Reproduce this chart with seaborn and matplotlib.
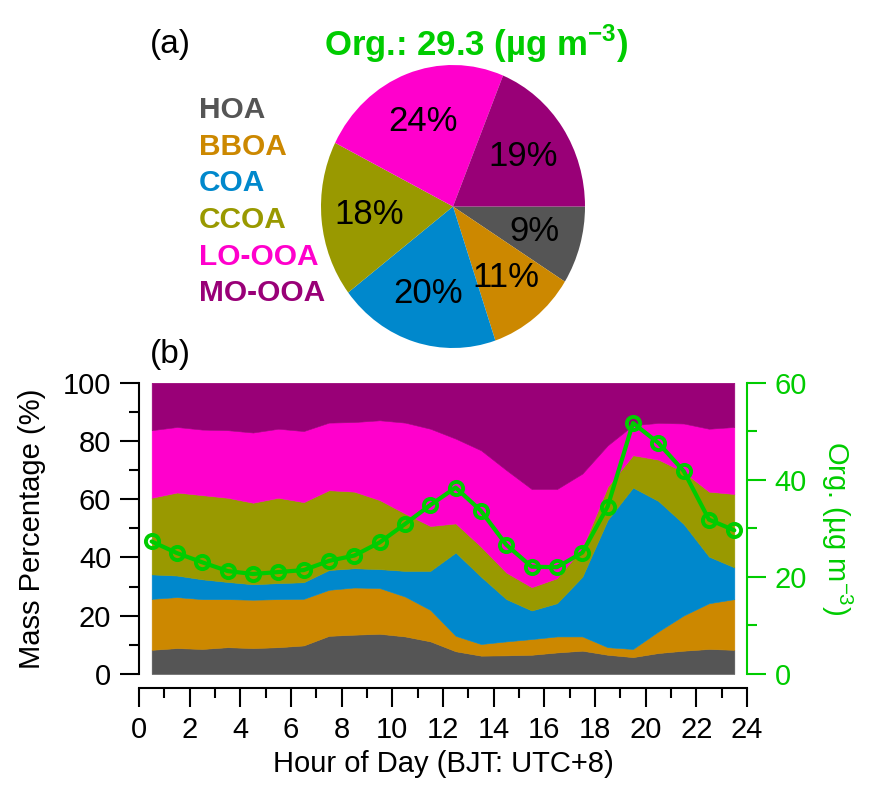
import numpy as np
import pandas as pd
import matplotlib
matplotlib.use("Agg")
import matplotlib.pyplot as plt
from matplotlib.ticker import MultipleLocator
import seaborn as sns

# ---------------- data ----------------
hours = [0.5 + i for i in range(24)]
factors = ["HOA", "BBOA", "COA", "CCOA", "LO-OOA", "MO-OOA"]
colors = ["#555555", "#CC8800", "#0088CC", "#999900", "#FF00CC", "#990077"]
pie_pct = [9, 11, 20, 18, 24, 19]

hoa = [8.3, 8.9, 8.6, 9.2, 8.9, 9.2, 9.8, 13.1, 13.5, 13.8, 12.9, 11.2,
       7.8, 6.3, 6.4, 6.6, 7.4, 8.0, 6.6, 5.8, 7.2, 8.0, 8.6, 8.3]
bboa = [17.5, 17.5, 17.1, 16.5, 16.6, 16.5, 16.0, 15.8, 16.2, 15.7, 13.7, 10.8,
        5.3, 4.0, 4.8, 5.4, 5.5, 4.9, 2.6, 2.8, 7.4, 12.1, 15.7, 17.4]
coa = [8.4, 7.4, 6.8, 5.9, 5.3, 5.5, 5.7, 6.8, 6.6, 6.5, 8.8, 13.4,
       28.6, 23.1, 14.5, 9.8, 11.4, 20.5, 43.7, 55.4, 44.8, 31.4, 16.0, 10.9]
ccoa = [26.3, 28.5, 28.9, 28.9, 28.0, 29.3, 27.5, 27.4, 26.3, 23.7, 19.7, 15.4,
        10.0, 10.3, 9.1, 8.0, 8.6, 9.8, 11.4, 11.1, 14.2, 17.9, 22.3, 25.2]
lo_ooa = [23.2, 22.5, 22.5, 23.2, 24.1, 23.7, 24.4, 23.2, 23.9, 27.4, 31.2, 33.4,
          29.1, 33.1, 35.2, 33.7, 30.6, 25.6, 14.2, 10.3, 12.6, 16.6, 21.6, 23.0]
mo_ooa = [16.3, 15.2, 16.1, 16.3, 17.1, 15.8, 16.6, 13.7, 13.5, 12.9, 13.7, 15.8,
          19.2, 23.2, 30.0, 36.5, 36.5, 31.2, 21.5, 14.6, 13.8, 14.0, 15.8, 15.2]
org = [27.3, 24.9, 23.0, 21.2, 20.6, 21.0, 21.4, 23.3, 24.4, 27.1, 30.9, 34.8,
       38.4, 33.6, 26.6, 22.1, 22.0, 25.0, 34.5, 51.7, 47.6, 41.8, 31.8, 29.6]

GREEN = "#00CC00"

# ---------------- style ----------------
sns.set_theme(style="ticks")
plt.rcParams["font.family"] = ["Liberation Sans", "DejaVu Sans"]
plt.rcParams["mathtext.fontset"] = "custom"
plt.rcParams["mathtext.rm"] = "Liberation Sans"
plt.rcParams["mathtext.bf"] = "Liberation Sans:bold"
plt.rcParams["axes.linewidth"] = 1.5
plt.rcParams["text.color"] = "black"
plt.rcParams["axes.labelcolor"] = "black"
plt.rcParams["xtick.color"] = "black"
plt.rcParams["ytick.color"] = "black"

W, H = 870, 798
fig = plt.figure(figsize=(W / 100, H / 100), dpi=100)

# ---------------- stacked area (b) ----------------
x0, x1, ytop, ybot = 139, 747, 382.7, 674
ax = fig.add_axes([x0 / W, (H - ybot) / H, (x1 - x0) / W, (ybot - ytop) / H])
ax.stackplot(hours, hoa, bboa, coa, ccoa, lo_ooa, mo_ooa, colors=colors,
             linewidth=0.4, edgecolor="face")
ax.set_xlim(0, 24)
ax.set_ylim(0, 100)
ax.xaxis.set_major_locator(MultipleLocator(2))
ax.xaxis.set_minor_locator(MultipleLocator(1))
ax.yaxis.set_major_locator(MultipleLocator(20))
ax.yaxis.set_minor_locator(MultipleLocator(10))
for s in ["top", "right"]:
    ax.spines[s].set_visible(False)
ax.spines["bottom"].set_position(("outward", 10))
ax.spines["left"].set_color("black")
ax.spines["bottom"].set_color("black")
ax.tick_params(which="major", length=14, width=1.5, labelsize=21, pad=6,
               color="black", labelcolor="black")
ax.tick_params(which="minor", length=7, width=1.5, color="black")
ax.set_ylabel("Mass Percentage (%)", fontsize=21, color="black")
ax.set_xlabel("Hour of Day (BJT: UTC+8)", fontsize=21, color="black")
ax.yaxis.set_label_coords(-0.153, 0.5)
ax.xaxis.set_label_coords(0.5, -0.262)
ax.grid(False)

ax2 = ax.twinx()
sns.lineplot(x=hours, y=org, ax=ax2, color=GREEN, linewidth=3.0, marker="o",
             markersize=9.5, markerfacecolor="none", markeredgecolor=GREEN,
             markeredgewidth=2.8, clip_on=False)
ax2.set_ylim(0, 60)
ax2.set_xlim(0, 24)
ax2.yaxis.set_major_locator(MultipleLocator(20))
ax2.yaxis.set_minor_locator(MultipleLocator(10))
for s in ["top", "left", "bottom"]:
    ax2.spines[s].set_visible(False)
ax2.spines["right"].set_color(GREEN)
ax2.spines["right"].set_linewidth(1.5)
ax2.tick_params(axis="y", which="major", length=14, width=1.5, labelsize=21, pad=6,
                color=GREEN, labelcolor=GREEN)
ax2.tick_params(axis="y", which="minor", length=7, width=1.5, color=GREEN)
ax2.set_ylabel("Org. (µg m$^{-3}$)", fontsize=21, color=GREEN, rotation=270,
               va="bottom")
ax2.yaxis.set_label_coords(1.118, 0.5)
ax2.set_xlabel("")

# ---------------- pie (a) ----------------
px0, px1, py0, py1 = 321, 585, 65, 348
axp = fig.add_axes([px0 / W, (H - py1) / H, (px1 - px0) / W, (py1 - py0) / H])
wedges, texts = axp.pie(pie_pct, colors=colors, startangle=0, counterclock=False,
                        labels=[f"{v}%" for v in pie_pct], labeldistance=0.64,
                        wedgeprops=dict(linewidth=0),
                        textprops=dict(fontsize=25, color="black"))
for t in texts:
    t.set_ha("center")
    t.set_va("center")
axp.set_aspect("auto")
axp.set_xlim(-1, 1)
axp.set_ylim(-1, 1)

legend_y = [110, 147, 183, 220, 257, 293]
for name, c, yy in zip(factors, colors, legend_y):
    fig.text(199 / W, 1 - yy / H, name, color=c, fontsize=21.5, fontweight="bold",
             ha="left", va="center")

fig.text(476 / W, 1 - 56 / H, r"Org.: 29.3 (µg m$^{\mathbf{-3}}$)", color=GREEN,
         fontsize=25, fontweight="bold", ha="center", va="baseline")
fig.text(150 / W, 1 - 53 / H, "(a)", fontsize=24, color="black", ha="left", va="baseline")
fig.text(150 / W, 1 - 363 / H, "(b)", fontsize=24, color="black", ha="left", va="baseline")

fig.savefig("out.png", dpi=100)
